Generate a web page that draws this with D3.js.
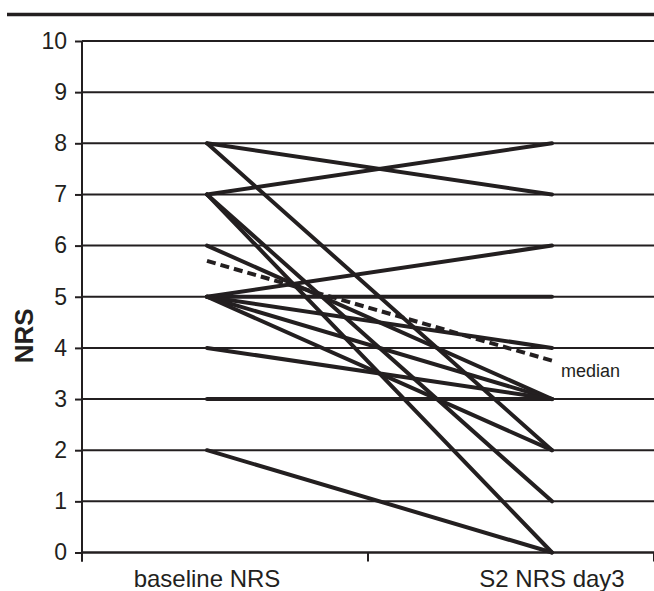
<!DOCTYPE html>
<html lang="en">
<head>
  <meta charset="UTF-8">
  <title>NRS baseline vs S2 day3</title>
  <script src="https://d3js.org/d3.v7.min.js"></script>
  <style>
    body { margin: 0; background: #fff; font-family: "Liberation Sans", Arial, sans-serif; }
  </style>
</head>
<body>
  <svg id="chart" width="654" height="591"></svg>

  <script>
    // Data
    const categories = ["baseline NRS", "S2 NRS day3"];
    const baselineNRS = [8, 8, 7, 7, 7, 6, 5, 5, 5, 5, 5, 4, 3, 2];
    const day3NRS     = [7, 2, 8, 1, 0, 3, 6, 5, 4, 3, 2, 3, 3, 0];
    const medianNRS   = [5.7, 3.75];
    const yTicks = d3.range(0, 11);

    const ink = "#231f20";
    const svg = d3.select("#chart");

    // scales
    const x = d3.scalePoint().domain(categories).range([207, 552]);
    const xBand = d3.scaleLinear().domain([0, 2]).range([82, 654]);  // category borders
    const y = d3.scaleLinear().domain([0, 10]).range([552.5, 41]);

    // rule on top of the figure
    svg.append("line")
      .attr("x1", 7).attr("x2", 654)
      .attr("y1", 14.5).attr("y2", 14.5)
      .attr("stroke", ink).attr("stroke-width", 3.4);

    // gridlines
    svg.append("g")
      .selectAll("line")
      .data(yTicks.filter(d => d > 0))
      .join("line")
      .attr("x1", xBand(0)).attr("x2", xBand(2))
      .attr("y1", d => y(d)).attr("y2", d => y(d))
      .attr("stroke", ink).attr("stroke-width", 2);

    // y axis
    const yAxis = svg.append("g")
      .attr("transform", `translate(${xBand(0)},0)`)
      .call(d3.axisLeft(y).tickValues(yTicks).tickSize(7).tickPadding(8).tickSizeOuter(0));
    yAxis.select(".domain").remove();
    yAxis.append("line")
      .attr("x1", 0).attr("x2", 0)
      .attr("y1", y(10)).attr("y2", y(0) + 9)
      .attr("stroke", ink).attr("stroke-width", 2);
    yAxis.selectAll(".tick line").attr("stroke", ink).attr("stroke-width", 2);
    yAxis.selectAll(".tick text")
      .attr("fill", ink)
      .style("font-family", "'Liberation Sans', Arial, sans-serif")
      .style("font-size", "23px");

    // x axis
    const xAxis = svg.append("g")
      .attr("transform", `translate(0,${y(0)})`);
    xAxis.append("line")
      .attr("x1", xBand(0)).attr("x2", xBand(2))
      .attr("stroke", ink).attr("stroke-width", 2.4);
    xAxis.selectAll("line.tick")
      .data([0, 1, 2])
      .join("line")
      .attr("class", "tick")
      .attr("x1", d => xBand(d)).attr("x2", d => xBand(d))
      .attr("y1", 0).attr("y2", 9)
      .attr("stroke", ink).attr("stroke-width", 2);
    xAxis.selectAll("text")
      .data(categories)
      .join("text")
      .attr("x", d => x(d))
      .attr("y", 34)
      .attr("text-anchor", "middle")
      .attr("fill", ink)
      .style("font-size", "24px")
      .text(d => d);

    // y axis title
    svg.append("text")
      .attr("transform", `translate(33,${(y(0) + y(10)) / 2 + 39}) rotate(-90)`)
      .attr("text-anchor", "middle")
      .attr("fill", ink)
      .style("font-size", "26px")
      .style("font-weight", "bold")
      .text("NRS");

    // patient lines
    const pairs = baselineNRS.map((b, i) => [b, day3NRS[i]]);
    const line = d3.line()
      .x((d, i) => x(categories[i]))
      .y(d => y(d));

    svg.append("g")
      .selectAll("path")
      .data(pairs)
      .join("path")
      .attr("d", line)
      .attr("fill", "none")
      .attr("stroke", ink)
      .attr("stroke-width", 4)
      .attr("stroke-linecap", "round");

    // median
    svg.append("path")
      .datum(medianNRS)
      .attr("d", line)
      .attr("fill", "none")
      .attr("stroke", ink)
      .attr("stroke-width", 4)
      .attr("stroke-dasharray", "9,5");

    svg.append("text")
      .attr("x", 561)
      .attr("y", 377)
      .attr("fill", ink)
      .style("font-size", "18px")
      .text("median");
  </script>
</body>
</html>
